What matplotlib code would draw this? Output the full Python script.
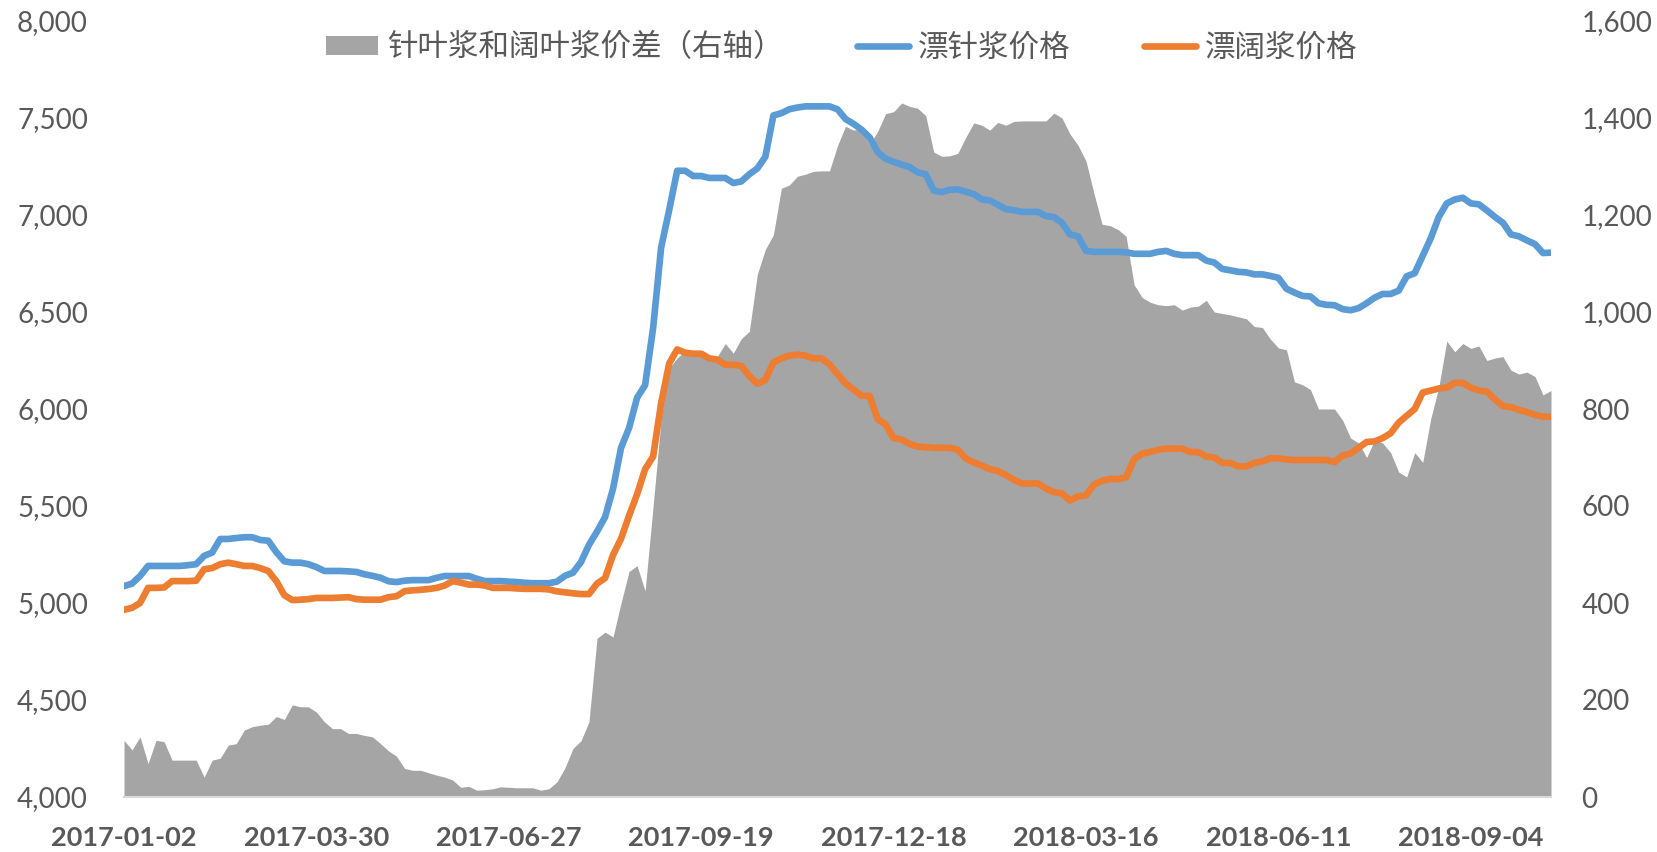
import matplotlib
matplotlib.use("Agg")
import matplotlib.pyplot as plt
from matplotlib.patches import Patch
from matplotlib.lines import Line2D
from matplotlib.ticker import FuncFormatter
import numpy as np

# ---------------- data ----------------
tick_dates = ["2017-01-02", "2017-03-30", "2017-06-27", "2017-09-19",
              "2017-12-18", "2018-03-16", "2018-06-11", "2018-09-04"]
tick_step = 24  # category points between labelled dates

spread_label = "针叶浆和阔叶浆价差（右轴）"
nbsk_label = "漂针浆价格"
bhkp_label = "漂阔浆价格"

nbsk_price = [
    5087, 5100, 5139, 5191, 5191, 5191, 5191, 5191, 5195, 5200,
    5243, 5260, 5330, 5330, 5335, 5339, 5339, 5325, 5321, 5262,
    5215, 5208, 5208, 5200, 5185, 5165, 5165, 5165, 5163, 5160,
    5148, 5140, 5130, 5112, 5108, 5115, 5118, 5118, 5118, 5130,
    5139, 5139, 5139, 5139, 5125, 5113, 5113, 5113, 5110, 5108,
    5104, 5102, 5102, 5102, 5110, 5140, 5156, 5211, 5300, 5368,
    5442, 5589, 5800, 5902, 6058, 6123, 6417, 6832, 7025, 7228,
    7228, 7201, 7201, 7191, 7191, 7191, 7165, 7173, 7210, 7240,
    7300, 7513, 7525, 7545, 7554, 7560, 7560, 7560, 7560, 7545,
    7495, 7470, 7440, 7400, 7325, 7290, 7274, 7260, 7247, 7220,
    7210, 7126, 7118, 7130, 7132, 7120, 7108, 7080, 7075, 7053,
    7030, 7025, 7016, 7016, 7016, 6995, 6989, 6960, 6900, 6890,
    6815, 6810, 6810, 6810, 6810, 6808, 6800, 6800, 6800, 6810,
    6815, 6800, 6793, 6793, 6793, 6765, 6755, 6722, 6715, 6707,
    6704, 6694, 6694, 6686, 6676, 6620, 6600, 6583, 6580, 6545,
    6537, 6535, 6515, 6509, 6520, 6545, 6574, 6593, 6593, 6610,
    6684, 6700, 6790, 6880, 6990, 7060, 7080, 7089, 7060, 7055,
    7024, 6990, 6960, 6900, 6890, 6869, 6850, 6804, 6806,
]

bhkp_price = [
    4965, 4975, 5000, 5078, 5078, 5080, 5113, 5113, 5113, 5115,
    5174, 5180, 5200, 5208, 5200, 5191, 5191, 5180, 5165, 5113,
    5040, 5015, 5017, 5020, 5026, 5026, 5026, 5028, 5030, 5020,
    5017, 5017, 5017, 5030, 5035, 5061, 5065, 5068, 5072, 5078,
    5090, 5113, 5105, 5095, 5095, 5090, 5078, 5078, 5078, 5075,
    5073, 5073, 5073, 5070, 5060, 5055, 5050, 5046, 5046, 5100,
    5128, 5248, 5331, 5450, 5560, 5690, 5755, 6030, 6234, 6307,
    6290, 6285, 6285, 6261, 6255, 6228, 6228, 6222, 6170, 6130,
    6150, 6240, 6261, 6275, 6280, 6275, 6261, 6261, 6230, 6180,
    6132, 6100, 6068, 6068, 5948, 5920, 5850, 5843, 5820, 5806,
    5803, 5800, 5800, 5800, 5790, 5745, 5725, 5708, 5690, 5681,
    5660, 5635, 5616, 5616, 5616, 5590, 5571, 5565, 5528, 5550,
    5555, 5611, 5630, 5639, 5639, 5648, 5741, 5770, 5778, 5790,
    5796, 5796, 5796, 5778, 5778, 5755, 5750, 5722, 5722, 5704,
    5704, 5722, 5730, 5746, 5746, 5740, 5737, 5737, 5737, 5737,
    5737, 5726, 5760, 5770, 5800, 5830, 5833, 5850, 5875, 5930,
    5965, 6000, 6085, 6095, 6106, 6110, 6135, 6135, 6110, 6095,
    6090, 6050, 6015, 6010, 5995, 5984, 5970, 5960, 5960,
]

price_spread = [
    117, 97, 124, 69, 117, 114, 76, 76, 76, 76,
    41, 76, 80, 107, 110, 138, 145, 148, 150, 166,
    160, 190, 186, 186, 175, 155, 141, 141, 131, 131,
    127, 124, 110, 95, 84, 59, 55, 55, 50, 45,
    41, 35, 20, 22, 14, 15, 17, 21, 20, 19,
    19, 19, 14, 17, 31, 60, 100, 116, 155, 327,
    340, 330, 400, 465, 477, 425, 600, 780, 884, 905,
    920, 918, 914, 910, 908, 935, 915, 945, 960, 1078,
    1129, 1159, 1255, 1262, 1280, 1284, 1290, 1291, 1291, 1343,
    1383, 1375, 1377, 1345, 1372, 1409, 1413, 1431, 1424, 1420,
    1405, 1330, 1321, 1322, 1327, 1360, 1390, 1385, 1375, 1391,
    1385, 1393, 1394, 1394, 1394, 1394, 1410, 1400, 1367, 1344,
    1311, 1244, 1181, 1178, 1170, 1156, 1056, 1030, 1020, 1015,
    1013, 1015, 1004, 1010, 1012, 1024, 1000, 997, 994, 990,
    986, 970, 968, 944, 926, 922, 856, 850, 840, 800,
    800, 800, 777, 740, 730, 700, 736, 730, 710, 670,
    660, 710, 690, 780, 845, 940, 918, 935, 925, 930,
    900, 905, 908, 880, 872, 876, 867, 829, 838,
]

# ---------------- style ----------------
plt.rcParams['font.family'] = ['Lato', 'Noto Sans CJK SC', 'DejaVu Sans']
TXT = '#595959'
C_AREA = '#A5A5A5'
C_BLUE = '#5B9BD5'
C_ORANGE = '#ED7D31'
LW = 4.8

fig = plt.figure(figsize=(16.57, 8.52), dpi=100)
W, H = 1657, 852
left, right, top, bottom = 124, 1551, 21, 797
ax = fig.add_axes([left / W, 1 - bottom / H, (right - left) / W, (bottom - top) / H])

x = np.arange(len(price_spread))
ax.fill_between(x, 0, price_spread, color=C_AREA, lw=0, zorder=1)
ax.set_xlim(0, len(price_spread) - 1)
ax.set_ylim(0, 1600)
ax.set_yticks(np.arange(0, 1601, 200))

ax2 = ax.twinx()
ax2.plot(x, nbsk_price, color=C_BLUE, lw=LW, solid_joinstyle='round', solid_capstyle='round')
ax2.plot(x, bhkp_price, color=C_ORANGE, lw=LW, solid_joinstyle='round', solid_capstyle='round')
ax2.set_ylim(4000, 8000)
ax2.set_yticks(np.arange(4000, 8001, 500))

ax.yaxis.tick_right()
ax2.yaxis.tick_left()

fmt = FuncFormatter(lambda v, p: f"{int(v):,}")
ax.yaxis.set_major_formatter(fmt)
ax2.yaxis.set_major_formatter(fmt)

ax.set_xticks(np.arange(0, len(price_spread), tick_step)[:len(tick_dates)])
ax.set_xticklabels(tick_dates, fontweight='bold')

for s in ax.spines.values():
    s.set_visible(False)
for s in ax2.spines.values():
    s.set_visible(False)
ax.spines['bottom'].set_visible(True)
ax.spines['bottom'].set_color('#D9D9D9')
ax.spines['bottom'].set_linewidth(1.5)

ax.tick_params(axis='x', length=0, pad=21, labelsize=19.5, labelcolor=TXT)
ax.tick_params(axis='y', length=0, pad=22, labelsize=20, labelcolor=TXT)
ax2.tick_params(axis='y', length=0, pad=26, labelsize=20, labelcolor=TXT)

handles = [
    Patch(facecolor=C_AREA, edgecolor='none'),
    Line2D([], [], color=C_BLUE, lw=LW, solid_capstyle='round'),
    Line2D([], [], color=C_ORANGE, lw=LW, solid_capstyle='round'),
]
fig.legend(handles, [spread_label, nbsk_label, bhkp_label],
           loc='center', bbox_to_anchor=(0.508, 0.944), ncol=3, frameon=False,
           handlelength=1.7, handleheight=0.6, handletextpad=0.3, columnspacing=2.4,
           prop={'family': ['Noto Sans CJK SC', 'DejaVu Sans'], 'size': 22},
           labelcolor=TXT)

fig.savefig('out.png', dpi=100)
